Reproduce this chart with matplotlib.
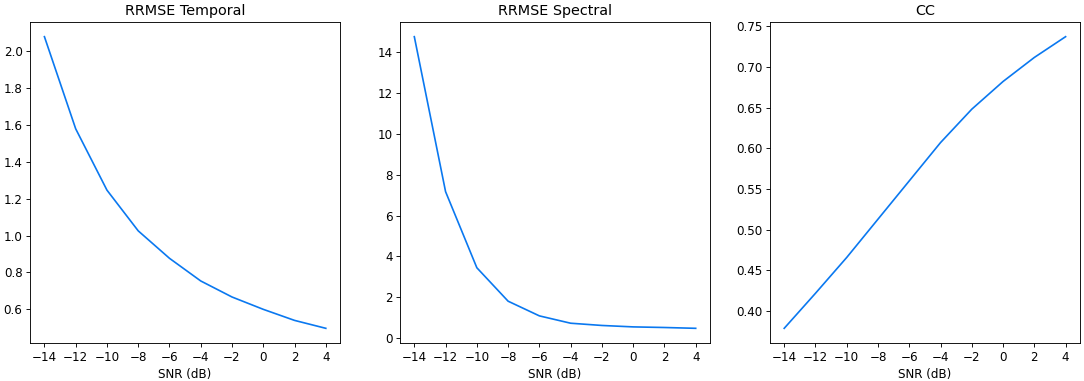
import matplotlib
matplotlib.use("Agg")
import matplotlib.pyplot as plt

# SNR levels and metrics
snr = [-14, -12, -10, -8, -6, -4, -2, 0, 2, 4]
rrmse_temporal = [2.08, 1.58, 1.247, 1.026, 0.877, 0.754, 0.667, 0.60, 0.540, 0.497]
rrmse_spectral = [14.77, 7.17, 3.44, 1.80, 1.08, 0.72, 0.61, 0.54, 0.51, 0.47]
cc = [0.379, 0.422, 0.466, 0.513, 0.560, 0.607, 0.648, 0.682, 0.7115, 0.737]

titles = ["RRMSE Temporal", "RRMSE Spectral", "CC"]
series = [rrmse_temporal, rrmse_spectral, cc]

fig, axes = plt.subplots(1, 3, figsize=(13.55, 4.7625), dpi=80)
fig.subplots_adjust(left=0.028, right=0.996, bottom=0.10, top=0.942, wspace=0.195)

for ax, title, vals in zip(axes, titles, series):
    ax.plot(snr, vals, color="#0a78f0", linewidth=1.5)
    ax.set_title(title, fontsize=12.9)
    ax.set_xlabel("SNR (dB)", fontsize=10.7)
    ax.set_xticks(snr)
    ax.tick_params(labelsize=10.7)

axes[1].set_yticks([0, 2, 4, 6, 8, 10, 12, 14])

fig.savefig("out.png", dpi=80)
